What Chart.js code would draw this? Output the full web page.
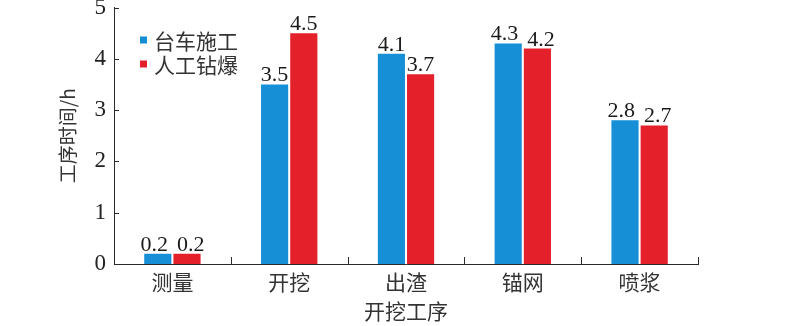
<!DOCTYPE html>
<html>
<head>
<meta charset="utf-8">
<script src="https://cdn.jsdelivr.net/npm/chart.js@4/dist/chart.umd.min.js"></script>
<style>
  html, body { margin: 0; padding: 0; background: #fff; }
  #wrap { width: 787px; height: 326px; }
</style>
</head>
<body>
<div id="wrap"><canvas id="barChart"></canvas></div>
<script>
const categories = ['测量', '开挖', '出渣', '锚网', '喷浆'];
const trolleyHours = [0.2, 3.5, 4.1, 4.3, 2.8];
const drillBlastHours = [0.2, 4.5, 3.7, 4.2, 2.7];
const seriesNames = ['台车施工', '人工钻爆'];
const yTicks = [0, 1, 2, 3, 4, 5];

const AXIS = '#2b2b2b';
const CJK = '"Noto Sans CJK SC", "Noto Sans", sans-serif';
const SERIF = '"Liberation Serif", "DejaVu Serif", serif';

/* -----------------------------
    inner ticks, labels, legend
------------------------------ */
const decorations = {
    id: 'decorations',
    afterDatasetsDraw(chart) {
        const ctx = chart.ctx;
        const xs = chart.scales.x;
        const ys = chart.scales.y;
        const area = chart.chartArea;

        ctx.save();
        ctx.strokeStyle = AXIS;
        ctx.lineWidth = 1;
        ctx.beginPath();
        yTicks.forEach(v => {
            const y = Math.round(ys.getPixelForValue(v)) + 0.5;
            ctx.moveTo(area.left, y);
            ctx.lineTo(area.left + 5, y);
        });
        const step = xs.getPixelForValue(1) - xs.getPixelForValue(0);
        for (let i = 0; i < categories.length; i++) {
            const x = Math.round(xs.getPixelForValue(i) + step / 2) + 0.5;
            ctx.moveTo(x, area.bottom);
            ctx.lineTo(x, area.bottom - 7);
        }
        ctx.stroke();

        // value labels (pushed apart when the pair would collide)
        ctx.fillStyle = '#1a1a1a';
        ctx.font = '22px ' + SERIF;
        ctx.textAlign = 'center';
        ctx.textBaseline = 'alphabetic';
        const metaA = chart.getDatasetMeta(0).data;
        const metaB = chart.getDatasetMeta(1).data;
        categories.forEach((c, i) => {
            const tA = trolleyHours[i].toFixed(1);
            const tB = drillBlastHours[i].toFixed(1);
            let xA = metaA[i].x, xB = metaB[i].x;
            const wA = ctx.measureText(tA).width, wB = ctx.measureText(tB).width;
            const need = (wA + wB) / 2 + 9;
            if (Math.abs(metaA[i].y - metaB[i].y) < 20 && xB - xA < need) {
                const push = (need - (xB - xA)) / 2;
                xA -= push;
                xB += push;
            }
            ctx.fillText(tA, xA, metaA[i].y - 3);
            ctx.fillText(tB, xB, metaB[i].y - 3);
        });

        // legend
        ctx.font = '21px ' + CJK;
        ctx.textAlign = 'left';
        ctx.textBaseline = 'middle';
        chart.data.datasets.forEach((ds, di) => {
            const cy = 40 + di * 24;
            ctx.fillStyle = ds.backgroundColor;
            ctx.fillRect(140, cy - 3.5, 7, 7);
            ctx.fillStyle = '#333';
            ctx.fillText(ds.label, 154, cy + 1);
        });
        ctx.restore();
    }
};

new Chart(document.getElementById('barChart'), {
    type: 'bar',
    data: {
        labels: categories,
        datasets: [
            { label: seriesNames[0], data: trolleyHours, backgroundColor: '#168fd6' },
            { label: seriesNames[1], data: drillBlastHours, backgroundColor: '#e4202a' }
        ]
    },
    options: {
        responsive: true,
        maintainAspectRatio: false,
        animation: false,
        devicePixelRatio: 1,
        categoryPercentage: 0.5,
        barPercentage: 0.93,
        layout: { padding: { left: 50, right: 89, top: 7.5, bottom: 0 } },
        plugins: {
            legend: { display: false },
            tooltip: { enabled: false }
        },
        scales: {
            x: {
                grid: { display: false, drawTicks: false },
                border: { color: AXIS, width: 1 },
                ticks: { color: '#333', padding: 5, font: { family: CJK, size: 21 } },
                title: {
                    display: true,
                    text: '开挖工序',
                    color: '#333',
                    padding: { top: 2, bottom: 2 },
                    font: { family: CJK, size: 21 }
                },
                afterFit(scale) {
                    scale.height = 62;
                    scale.paddingLeft = 0;
                    scale.paddingRight = 0;
                }
            },
            y: {
                min: 0,
                max: 5,
                afterBuildTicks(scale) {
                    scale.ticks = yTicks.map(v => ({ value: v }));
                },
                grid: { display: false, drawTicks: false },
                border: { color: AXIS, width: 1 },
                ticks: { color: '#222', padding: 8, font: { family: SERIF, size: 23 } },
                title: {
                    display: true,
                    text: '工序时间/h',
                    color: '#333',
                    padding: { top: 6, bottom: 0 },
                    font: { family: CJK, size: 19 }
                },
                afterFit(scale) {
                    scale.width = 64;
                    scale.paddingTop = 0;
                    scale.paddingBottom = 0;
                }
            }
        }
    },
    plugins: [decorations]
});
</script>
</body>
</html>
